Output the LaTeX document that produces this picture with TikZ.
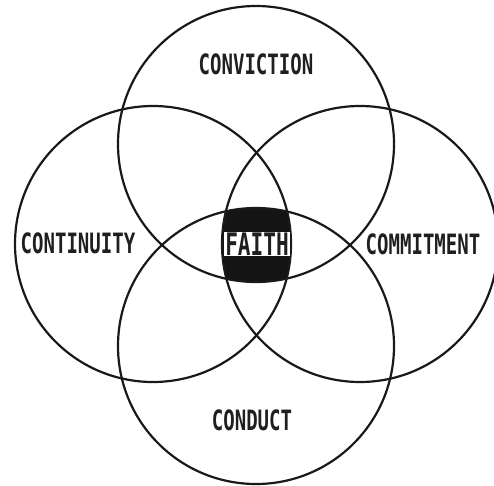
\documentclass[tikz,border=0pt]{standalone}
\usepackage{fontspec}
\newfontfamily\dotfont[FakeStretch=0.68]{DejaVu Sans Mono}
\begin{document}
\begin{tikzpicture}[x=1pt,y=-1pt,
  ring/.style={draw=black!90, line width=2.2pt},
  lbl/.style={font=\dotfont\bfseries\fontsize{28}{28}\selectfont, text=black!88, inner sep=0pt}]
\useasboundingbox (0,0) rectangle (494,485);
\clip (0,0) rectangle (494,485);
\fill[white] (0,0) rectangle (494,485);
\coordinate (ct) at (256,144);
\coordinate (cb) at (256,346);
\coordinate (cl) at (153,244);
\coordinate (cr) at (360,244);
\begin{scope}
  \clip (ct) circle[radius=138pt];
  \clip (cb) circle[radius=138pt];
  \clip (cl) circle[radius=138pt];
  \fill[black!92] (cr) circle[radius=138pt];
\end{scope}
\draw[ring] (ct) circle[radius=138pt];
\draw[ring] (cb) circle[radius=138pt];
\draw[ring] (cl) circle[radius=138pt];
\draw[ring] (cr) circle[radius=138pt];
\node[lbl] (conviction) at (256,64) {CONVICTION};
\node[lbl] (continuity) at (78,243) {CONTINUITY};
\node[lbl] (commitment) at (423,244) {COMMITMENT};
\node[lbl] (conduct) at (252,420) {CONDUCT};
\node[lbl, font=\dotfont\bfseries\fontsize{31}{31}\selectfont, fill=white, minimum width=66pt, minimum height=24pt] (faith) at (257,244) {FAITH};
\end{tikzpicture}
\end{document}
